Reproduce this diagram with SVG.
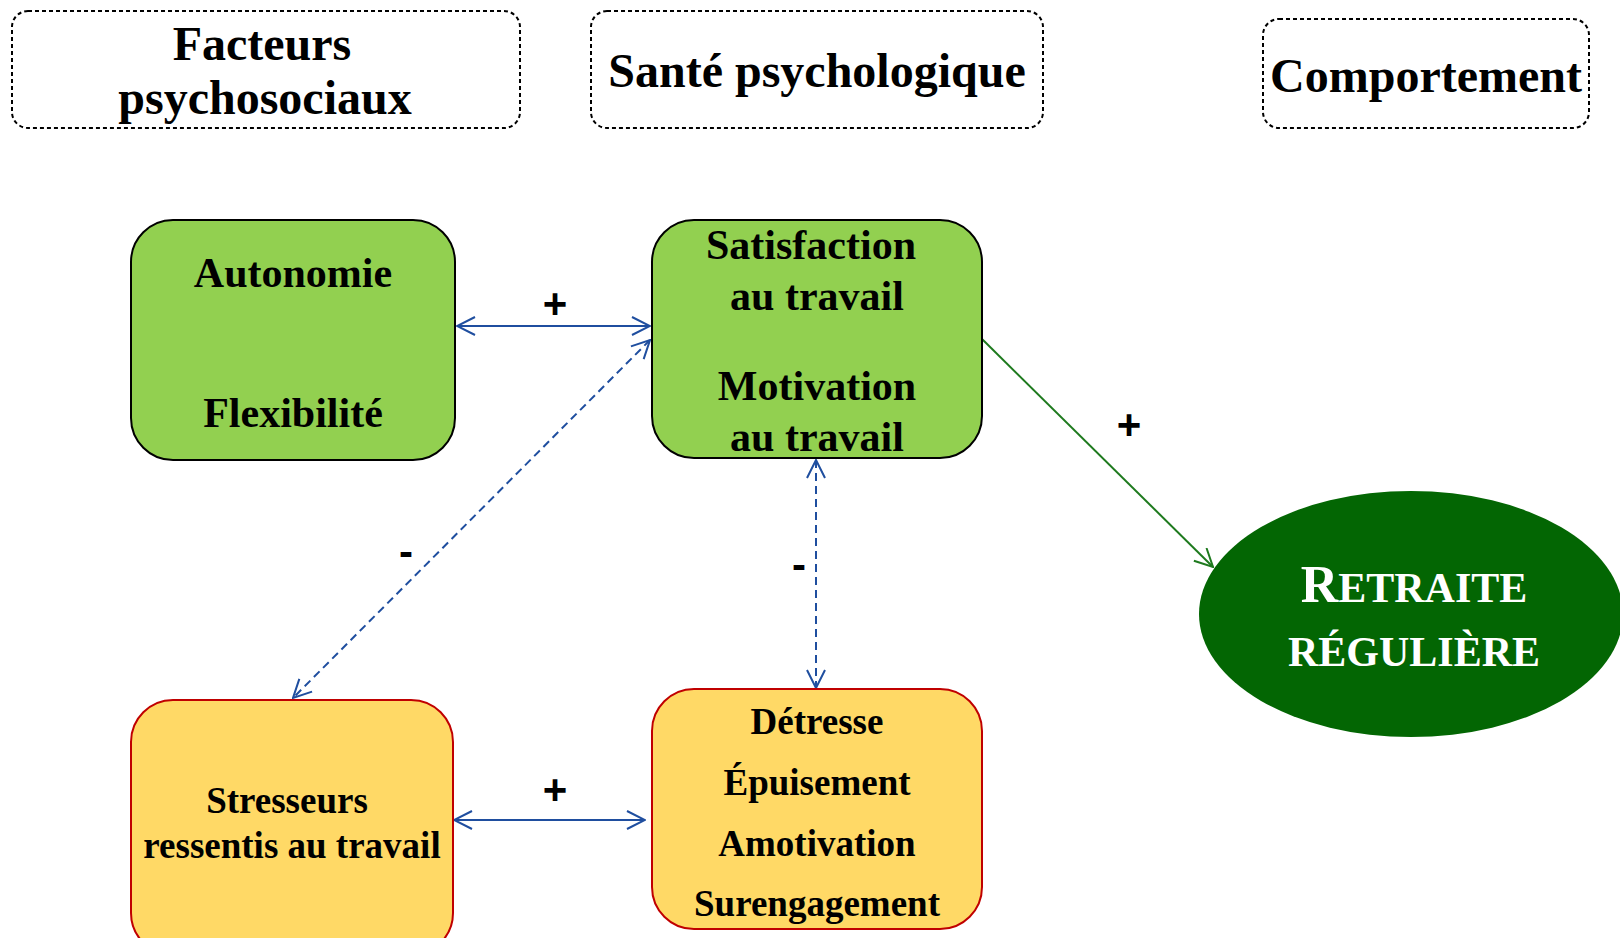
<svg xmlns="http://www.w3.org/2000/svg" width="1620" height="938" viewBox="0 0 1620 938">
<style>
.hdr{fill:#fff;stroke:#000;stroke-width:2;stroke-dasharray:4 3}
.ht{font-family:"Liberation Serif","Times New Roman",serif;font-weight:bold;font-size:48px;fill:#000;text-anchor:middle}
.nt{font-family:"Liberation Serif","Times New Roman",serif;font-weight:bold;font-size:42px;fill:#000;text-anchor:middle}
.yt{font-family:"Liberation Serif","Times New Roman",serif;font-weight:bold;font-size:37px;fill:#000;text-anchor:middle}
.gbox{fill:#92d050;stroke:#000;stroke-width:2}
.ybox{fill:#ffd966;stroke:#c00000;stroke-width:2}
.blue{fill:none;stroke:#1f4e9f;stroke-width:2}
.dash{stroke-dasharray:8 5}
.green{fill:none;stroke:#1e7a1e;stroke-width:2}
.sign{font-family:"Liberation Sans",Arial,sans-serif;font-weight:bold;font-size:42px;fill:#000;text-anchor:middle}
.et{font-family:"Liberation Serif","Times New Roman",serif;font-weight:bold;fill:#fff;text-anchor:middle}
</style>
<defs>
<marker id="ab" viewBox="0 0 20 20" refX="19" refY="10" markerWidth="20" markerHeight="20" markerUnits="userSpaceOnUse" orient="auto-start-reverse">
<path d="M1,1 L19,10 L1,19" fill="none" stroke="#1f4e9f" stroke-width="2" stroke-dasharray="none"/>
</marker>
<marker id="ag" viewBox="0 0 20 20" refX="19" refY="10" markerWidth="20" markerHeight="20" markerUnits="userSpaceOnUse" orient="auto">
<path d="M1,1 L19,10 L1,19" fill="none" stroke="#1e7a1e" stroke-width="2"/>
</marker>
</defs>
<rect width="1620" height="938" fill="#fff"/>

<g id="hdr-facteurs">
<rect class="hdr" x="12" y="11" width="508" height="117" rx="16"/>
<text class="ht" x="262" y="60">Facteurs</text>
<text class="ht" x="265" y="114">psychosociaux</text>
</g>
<g id="hdr-sante">
<rect class="hdr" x="591" y="11" width="452" height="117" rx="16"/>
<text class="ht" x="817" y="87">Santé psychologique</text>
</g>
<g id="hdr-comportement">
<rect class="hdr" x="1263" y="19" width="326" height="109" rx="16"/>
<text class="ht" x="1426" y="92">Comportement</text>
</g>

<g id="connectors">
<line class="blue" x1="457" y1="326" x2="650" y2="326" marker-start="url(#ab)" marker-end="url(#ab)"/>
<line class="blue dash" x1="650" y1="340" x2="293" y2="698" marker-start="url(#ab)" marker-end="url(#ab)"/>
<line class="blue dash" x1="816" y1="460" x2="816" y2="688" marker-start="url(#ab)" marker-end="url(#ab)"/>
<line class="blue" x1="454" y1="820" x2="645" y2="820" marker-start="url(#ab)" marker-end="url(#ab)"/>
<line class="green" x1="982" y1="339" x2="1213" y2="567" marker-end="url(#ag)"/>
<text class="sign" x="555" y="318">+</text>
<text class="sign" x="555" y="804">+</text>
<text class="sign" x="1129" y="439">+</text>
<text class="sign" x="406" y="566">-</text>
<text class="sign" x="799" y="579">-</text>
</g>

<g id="node-autonomie">
<rect class="gbox" x="131" y="220" width="324" height="240" rx="42"/>
<text class="nt" x="293" y="287">Autonomie</text>
<text class="nt" x="293" y="427">Flexibilité</text>
</g>
<g id="node-satisfaction">
<rect class="gbox" x="652" y="220" width="330" height="238" rx="42"/>
<text class="nt" x="811" y="259">Satisfaction</text>
<text class="nt" x="817" y="310">au travail</text>
<text class="nt" x="817" y="400">Motivation</text>
<text class="nt" x="817" y="451">au travail</text>
</g>
<g id="node-stresseurs">
<rect class="ybox" x="131" y="700" width="322" height="255" rx="42"/>
<text class="yt" x="287" y="813">Stresseurs</text>
<text class="yt" x="292" y="858">ressentis au travail</text>
</g>
<g id="node-detresse">
<rect class="ybox" x="652" y="689" width="330" height="240" rx="42"/>
<text class="yt" x="817" y="734">Détresse</text>
<text class="yt" x="817" y="795">Épuisement</text>
<text class="yt" x="817" y="856">Amotivation</text>
<text class="yt" x="817" y="916">Surengagement</text>
</g>
<g id="node-retraite">
<ellipse cx="1411" cy="614" rx="212" ry="123" fill="#036603"/>
<text class="et" x="1414" y="602"><tspan font-size="52px">R</tspan><tspan font-size="42px">ETRAITE</tspan></text>
<text class="et" x="1414" y="666" font-size="42px">RÉGULIÈRE</text>
</g>
</svg>
